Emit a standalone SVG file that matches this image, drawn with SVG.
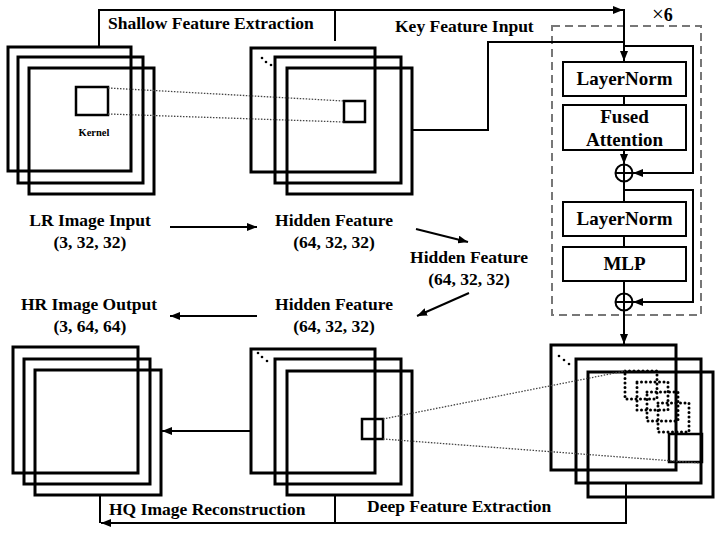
<svg xmlns="http://www.w3.org/2000/svg" width="718" height="534" viewBox="0 0 718 534">
<defs>
<marker id="ah" viewBox="0 0 10 8" refX="10" refY="4" markerWidth="10" markerHeight="8" markerUnits="userSpaceOnUse" orient="auto">
<path d="M0,0 L10,4 L0,8 z" fill="#000"/>
</marker>
<style>
.sq{fill:none;stroke:#000;stroke-width:3}
.kb{fill:none;stroke:#000;stroke-width:2.5}
.box{fill:#fff;stroke:#000;stroke-width:2}
.ln{fill:none;stroke:#000;stroke-width:2}
.arr{fill:none;stroke:#000;stroke-width:2;marker-end:url(#ah)}
.dot{fill:none;stroke:#444;stroke-width:1.3;stroke-dasharray:1.5 1.5}
.dbox{fill:none;stroke:#000;stroke-width:3;stroke-dasharray:0 4.5;stroke-linecap:round}
.dash{fill:none;stroke:#777;stroke-width:2;stroke-dasharray:8 5}
.t{font-family:"Liberation Serif","Times New Roman",serif;font-weight:bold;font-size:17.5px;fill:#000}
.tc{text-anchor:middle}
.bt{font-family:"Liberation Serif","Times New Roman",serif;font-weight:bold;font-size:19px;fill:#000;text-anchor:middle}
.dots{fill:#000}
</style>
</defs>
<rect width="718" height="534" fill="#fff"/>

<g id="lr-input">
<rect class="sq" x="8" y="47" width="123" height="124"/>
<rect class="sq" x="18" y="57" width="125" height="126"/>
<rect class="sq" x="29" y="68" width="125" height="126"/>
<rect class="kb" x="76" y="87" width="32" height="28"/>
<text class="t tc" x="94" y="136" style="font-size:10.5px">Kernel</text>
<text class="t tc" x="90" y="226">LR Image Input</text>
<text class="t tc" x="90" y="248">(3, 32, 32)</text>
</g>

<g id="hidden-feature-1">
<rect class="sq" x="251" y="48" width="124" height="124"/>
<rect class="sq" x="275" y="57" width="126" height="126"/>
<rect class="sq" x="287" y="68" width="125" height="126"/>
<rect class="kb" x="344" y="101" width="21" height="21"/>
<circle class="dots" cx="262" cy="58" r="1.3"/>
<circle class="dots" cx="266" cy="62" r="1.3"/>
<circle class="dots" cx="271" cy="65" r="1.3"/>
<text class="t tc" x="334" y="226">Hidden Feature</text>
<text class="t tc" x="334" y="248">(64, 32, 32)</text>
</g>

<g id="hidden-feature-2">
<text class="t tc" x="469" y="263">Hidden Feature</text>
<text class="t tc" x="469" y="285">(64, 32, 32)</text>
</g>

<g id="transformer-block">
<rect class="dash" x="552" y="26" width="149" height="289"/>
<text class="t" x="652" y="21" style="font-size:18px"><tspan style="font-weight:normal;font-size:21px">×</tspan>6</text>
<rect class="box" x="563" y="62" width="123" height="34"/>
<text class="bt" x="624.5" y="85">LayerNorm</text>
<rect class="box" x="563" y="105" width="123" height="45"/>
<text class="bt" x="624.5" y="123">Fused</text>
<text class="bt" x="624.5" y="146">Attention</text>
<rect class="box" x="563" y="202" width="123" height="34"/>
<text class="bt" x="624.5" y="225">LayerNorm</text>
<rect class="box" x="563" y="247" width="123" height="34"/>
<text class="bt" x="624.5" y="270">MLP</text>
<g id="add-1">
<circle class="ln" cx="624" cy="173" r="8.5"/>
<path class="ln" d="M615.5,173 H632.5 M624,164.5 V181.5"/>
</g>
<g id="add-2">
<circle class="ln" cx="624" cy="302" r="8.5"/>
<path class="ln" d="M615.5,302 H632.5 M624,293.5 V310.5"/>
</g>
</g>

<g id="deep-feature-map">
<rect class="sq" x="551" y="345" width="125" height="125"/>
<rect class="sq" x="576" y="359" width="125" height="124"/>
<rect class="sq" x="588" y="372" width="125" height="125"/>
<circle class="dots" cx="559" cy="356" r="1.3"/>
<circle class="dots" cx="564" cy="360" r="1.3"/>
<circle class="dots" cx="569" cy="364" r="1.3"/>
<rect class="dbox" x="625" y="371" width="32" height="28"/>
<rect class="dbox" x="637" y="382" width="31" height="28"/>
<rect class="dbox" x="647" y="392" width="31" height="29"/>
<rect class="dbox" x="658" y="403" width="31" height="29"/>
<rect class="kb" x="669" y="434" width="33" height="28"/>
</g>

<g id="hidden-feature-3">
<rect class="sq" x="251" y="349" width="124" height="124"/>
<rect class="sq" x="275" y="359" width="126" height="125"/>
<rect class="sq" x="287" y="371" width="125" height="124"/>
<rect class="kb" x="362" y="419" width="21" height="20"/>
<circle class="dots" cx="258" cy="353" r="1.3"/>
<circle class="dots" cx="262" cy="357" r="1.3"/>
<circle class="dots" cx="267" cy="361" r="1.3"/>
<text class="t tc" x="334" y="310">Hidden Feature</text>
<text class="t tc" x="334" y="332">(64, 32, 32)</text>
</g>

<g id="hr-output">
<rect class="sq" x="13" y="347" width="125" height="126"/>
<rect class="sq" x="24" y="359" width="126" height="125"/>
<rect class="sq" x="35" y="370" width="126" height="125"/>
<text class="t tc" x="89" y="310">HR Image Output</text>
<text class="t tc" x="90" y="332">(3, 64, 64)</text>
</g>

<g id="connectors">
<path class="dot" d="M108,88 L344,101 M108,114 L344,122"/>
<path class="dot" d="M383,419 L625,371 M383,439 L700,463"/>
<path class="arr" d="M99,47 V10 H623"/>
<path class="arr" d="M624,9 V61"/>
<path class="ln" d="M335,10 V41"/>
<path class="ln" d="M412,130 H488 V42 H624"/>
<path class="arr" d="M624,46 H693 V173 H633"/>
<path class="ln" d="M624,96 V105"/>
<path class="arr" d="M624,150 V164"/>
<path class="ln" d="M624,182 V202"/>
<path class="arr" d="M624,190 H693 V302 H633"/>
<path class="ln" d="M624,236 V247"/>
<path class="ln" d="M624,281 V293"/>
<path class="arr" d="M624,311 V344"/>
<path class="arr" d="M170,227 H257"/>
<path class="arr" d="M416,229 L468,242"/>
<path class="arr" d="M469,293 L417,316"/>
<path class="arr" d="M257,316 H170"/>
<path class="arr" d="M251,431 H162"/>
<path class="ln" d="M335,495 V523"/>
<path class="ln" d="M100,495 V523"/>
<path class="arr" d="M626,484 V523 H101"/>
<text class="t" x="108" y="29">Shallow Feature Extraction</text>
<text class="t" x="395" y="32">Key Feature Input</text>
<text class="t" x="367" y="512">Deep Feature Extraction</text>
<text class="t" x="109" y="515">HQ Image Reconstruction</text>
</g>
</svg>
